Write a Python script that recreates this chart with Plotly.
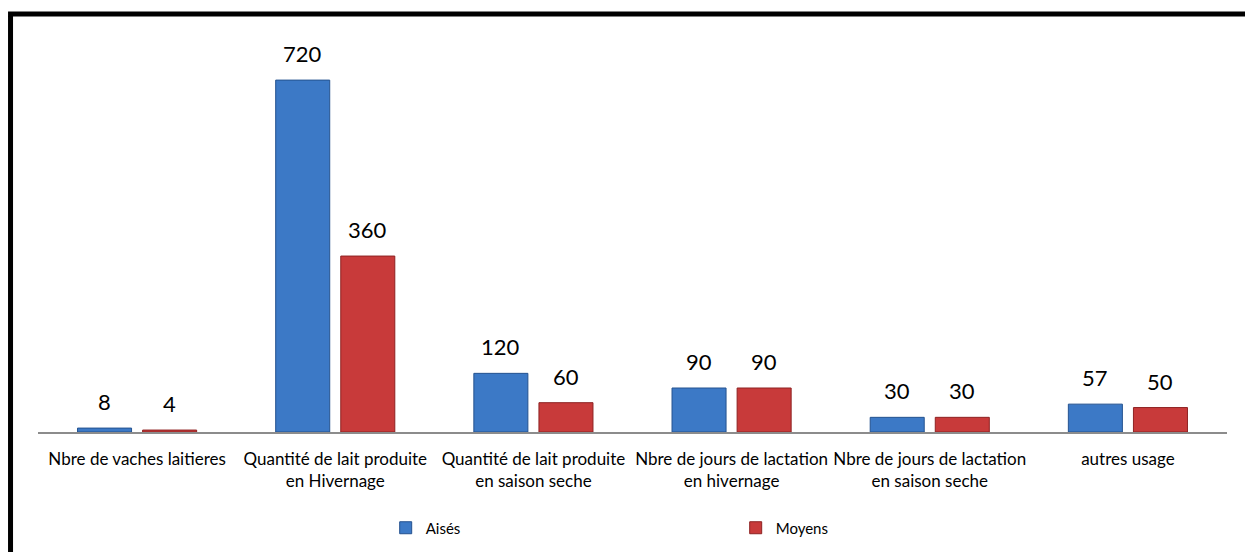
import plotly.graph_objects as go

# Categories (two-line labels) and series values
categories = [
    "Nbre de vaches laitieres",
    "Quantité de lait produite<br>en Hivernage",
    "Quantité de lait produite<br>en saison seche",
    "Nbre de jours de lactation<br>en hivernage",
    "Nbre de jours de lactation<br>en saison seche",
    "autres usage",
]
aises = [8, 720, 120, 90, 30, 57]
moyens = [4, 360, 60, 90, 30, 50]

series = [
    ("Aisés", aises, "#3C79C6", "#24528F", -32.5),
    ("Moyens", moyens, "#C83A3A", "#8E2222", 32.5),
]

FONT = "Lato"

fig = go.Figure()
for name, vals, color, edge, _ in series:
    fig.add_trace(go.Bar(
        name=name,
        x=categories,
        y=vals,
        marker=dict(color=color, line=dict(color=edge, width=1)),
        hoverinfo="x+y+name",
    ))

# value labels above each bar
for name, vals, _, _, shift in series:
    for cat, v in zip(categories, vals):
        fig.add_annotation(
            x=cat, y=v, text=str(v), showarrow=False,
            xshift=shift, yshift=11, yanchor="bottom",
            font=dict(family=FONT, size=22, color="#000000"),
        )

# outer frame of the chart area
fig.add_shape(
    type="rect", xref="paper", yref="paper",
    x0=-0.0231, x1=1.2, y0=1.069, y1=-0.6,
    line=dict(color="#000000", width=5),
    fillcolor="rgba(0,0,0,0)", layer="above",
)

fig.update_layout(
    width=1245, height=552,
    margin=dict(l=38, r=18, t=41, b=120, autoexpand=False),
    paper_bgcolor="white", plot_bgcolor="white",
    barmode="group", bargap=0.343, bargroupgap=0.17,
    font=dict(family=FONT, size=17, color="#000000"),
    showlegend=True,
    legend=dict(
        orientation="h",
        xref="container", x=0.3098, xanchor="left",
        yref="container", y=0.0435, yanchor="middle",
        entrywidth=305, entrywidthmode="pixels",
        font=dict(family=FONT, size=15, color="#000000"),
        bgcolor="rgba(0,0,0,0)",
    ),
    xaxis=dict(
        showline=True, linecolor="#8C8C8C", linewidth=1.5,
        ticks="", tickangle=0, showgrid=False, zeroline=False,
        automargin=False, ticklabelstandoff=11,
        tickfont=dict(family=FONT, size=17, color="#000000"),
    ),
    yaxis=dict(
        range=[0, 800], visible=False, showgrid=False, zeroline=False,
        automargin=False,
    ),
)

fig.write_html("out.html")
